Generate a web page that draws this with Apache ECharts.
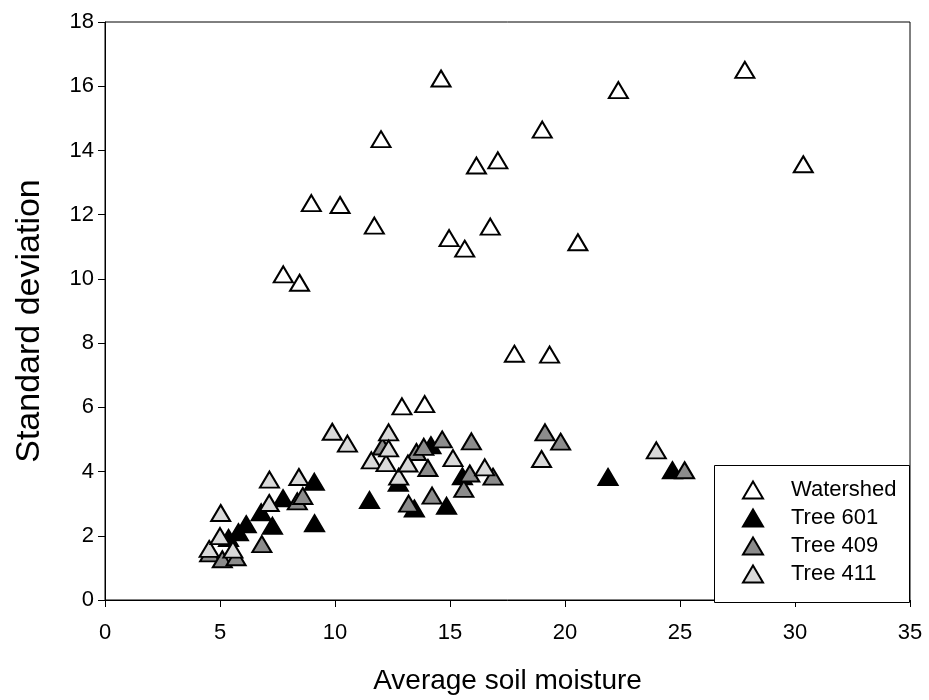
<!DOCTYPE html>
<html>
<head>
<meta charset="utf-8">
<title>Standard deviation vs average soil moisture</title>
<script src="https://cdn.jsdelivr.net/npm/echarts@6/dist/echarts.min.js"></script>
<style>
  html, body { margin: 0; padding: 0; background: #ffffff; }
  #chart { width: 929px; height: 700px; }
</style>
</head>
<body>
<div id="chart"></div>
<script>
// [average soil moisture, standard deviation]
const watershed = [
  [14.61, 16.24], [19.01, 14.65], [12.00, 14.35], [16.15, 13.53], [17.08, 13.69],
  [8.97, 12.36], [10.22, 12.30], [11.71, 11.66], [14.96, 11.27], [15.64, 10.94],
  [16.75, 11.63], [20.56, 11.14], [7.75, 10.14], [8.46, 9.88], [27.82, 16.51],
  [22.32, 15.88], [30.36, 13.57], [17.80, 7.67], [19.33, 7.64], [12.91, 6.03],
  [13.90, 6.10]
];
const tree601 = [
  [5.37, 1.93], [5.80, 2.11], [6.14, 2.36], [6.79, 2.73], [7.28, 2.31],
  [7.74, 3.17], [9.10, 3.68], [9.11, 2.39], [11.50, 3.11], [12.75, 3.65],
  [13.45, 2.85], [14.17, 4.82], [14.85, 2.93], [15.54, 3.85], [21.87, 3.83],
  [24.67, 4.04]
];
const tree409 = [
  [4.55, 1.45], [5.10, 1.27], [5.70, 1.33], [6.82, 1.74], [8.36, 3.07],
  [8.60, 3.24], [12.06, 4.78], [13.20, 3.00], [13.54, 4.61], [13.86, 4.77],
  [14.04, 4.11], [14.22, 3.25], [14.66, 5.00], [15.60, 3.46], [15.86, 3.94],
  [15.93, 4.94], [16.87, 3.84], [19.13, 5.22], [19.81, 4.93], [25.20, 4.04]
];
const tree411 = [
  [4.53, 1.59], [5.00, 1.99], [5.03, 2.71], [5.56, 1.57], [7.14, 3.02],
  [7.15, 3.75], [8.43, 3.83], [9.88, 5.24], [10.54, 4.87], [11.58, 4.35],
  [12.22, 4.26], [12.33, 5.22], [12.33, 4.72], [12.77, 3.84], [13.17, 4.25],
  [15.13, 4.42], [16.51, 4.13], [18.98, 4.39], [23.97, 4.66]
];

const seriesNames = ['Watershed', 'Tree 601', 'Tree 409', 'Tree 411'];
const seriesData = [watershed, tree601, tree409, tree411];
const seriesFill = ['#ffffff', '#000000', '#8c8c8c', '#d9d9d9'];

const FONT = "'Liberation Sans', Arial, sans-serif";

const chart = echarts.init(document.getElementById('chart'), null, { renderer: 'canvas' });

chart.setOption({
  backgroundColor: '#ffffff',
  animation: false,
  textStyle: { fontFamily: FONT, color: '#000000' },
  grid: {
    left: 105, top: 22, right: 19, bottom: 98,
    show: true, borderColor: '#000000', borderWidth: 1, backgroundColor: 'transparent'
  },
  xAxis: {
    type: 'value', min: 0, max: 35, interval: 5,
    name: 'Average soil moisture', nameLocation: 'middle', nameGap: 67,
    nameTextStyle: { fontSize: 28, color: '#000', fontFamily: FONT },
    axisLine: { show: true, lineStyle: { color: '#000', width: 1 } },
    axisTick: { show: true, inside: false, length: 7, lineStyle: { color: '#000' } },
    axisLabel: { fontSize: 22, color: '#000', margin: 22, fontFamily: FONT },
    splitLine: { show: false }
  },
  yAxis: {
    type: 'value', min: 0, max: 18, interval: 2,
    name: 'Standard deviation', nameLocation: 'middle', nameGap: 58, nameRotate: 90,
    nameTextStyle: { fontSize: 34, color: '#000', fontFamily: FONT, padding: [0, 20, 0, 0] },
    axisLine: { show: true, lineStyle: { color: '#000', width: 1 } },
    axisTick: { show: true, inside: false, length: 7, lineStyle: { color: '#000' } },
    axisLabel: { fontSize: 22, color: '#000', margin: 11, fontFamily: FONT },
    splitLine: { show: false }
  },
  legend: {
    orient: 'vertical', left: 742, top: 479, padding: 0,
    itemWidth: 20, itemHeight: 17, itemGap: 6,
    icon: 'triangle',
    data: seriesNames,
    textStyle: { fontSize: 22, color: '#000', fontFamily: FONT, padding: [0, 0, 0, 23] },
    z: 5
  },
  graphic: [{
    type: 'rect', z: 4,
    shape: { x: 714.5, y: 465.5, width: 195, height: 137 },
    style: { fill: '#ffffff', stroke: '#000000', lineWidth: 1 }
  }],
  series: seriesNames.map((name, i) => ({
    name: name,
    type: 'scatter',
    symbol: 'triangle',
    symbolSize: [19, 16],
    data: seriesData[i],
    itemStyle: { color: seriesFill[i], borderColor: '#000000', borderWidth: 2, opacity: 1 },
    emphasis: { disabled: true },
    z: 2 + i * 0.1
  }))
});
</script>
</body>
</html>
